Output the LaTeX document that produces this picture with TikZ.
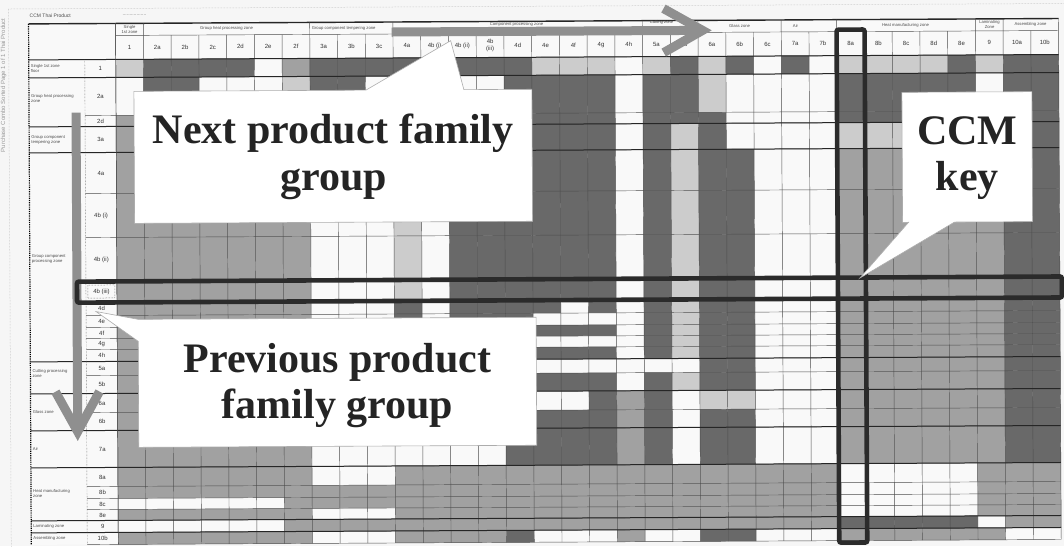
\documentclass[tikz,border=0pt]{standalone}
\usepackage{fontspec}
\setmainfont{Liberation Serif}
\newfontfamily\tinysans{Liberation Sans}
\definecolor{cD}{gray}{0.41}
\definecolor{cM}{gray}{0.63}
\definecolor{cL}{gray}{0.80}
\definecolor{cW}{gray}{0.975}
\definecolor{paper}{gray}{0.965}
\definecolor{gridc}{gray}{0.30}
\definecolor{arrowc}{gray}{0.56}
\definecolor{hlc}{gray}{0.17}
\definecolor{textc}{gray}{0.14}
\newcommand\ccmrow[3]{%
  \foreach \c [count=\i from 0] in {#3} {%
    \fill[c\c] ({117+27.735*\i},#1) rectangle ({117+27.735*(\i+1)},#2);
  }%
}
\tikzset{
  bigtext/.style={font=\fontsize{42}{47}\selectfont\bfseries, text=textc, inner sep=0pt, anchor=base},
  calloutbox/.style={fill=white, draw=gray!65, line width=0.6pt, line join=miter},
  gridline/.style={draw=gridc, line width=0.45pt},
  groupline/.style={draw=black!85, line width=1.0pt},
  hlbox/.style={draw=hlc, line width=4.6pt, rounded corners=2pt},
  bigarrow/.style={draw=arrowc, line width=9pt, line join=miter},
  collabel/.style={font=\tinysans\fontsize{6}{6.5}\selectfont, text=black!80, inner sep=0pt, align=center},
  grplabel/.style={font=\tinysans\fontsize{4.2}{4.8}\selectfont, text=black!70, inner sep=0pt, align=left},
  hdrlabel/.style={font=\tinysans\fontsize{4.2}{4.8}\selectfont, text=black!70, inner sep=0pt, align=center},
}
\begin{document}
\begin{tikzpicture}[x=1pt,y=-1pt]
\useasboundingbox (0,0) rectangle (1064,546);
\fill[paper] (0,0) rectangle (1064,546);
\begin{scope}[rotate around={0.3:(200,300)}]
  % page frame and margin text
  \draw[gray!55, densely dotted, line width=0.5pt] (10,8) -- (1070,8);
  \draw[gray!55, densely dotted, line width=0.5pt] (10,8) -- (10,550);
  \node[rotate=90, anchor=east, font=\tinysans\fontsize{6}{6}\selectfont, text=gray!80] (side) at (5,14) {Purchase Combo Sorted Page 1 of 1 Thai Product};
  \node[anchor=west, font=\tinysans\fontsize{5}{5}\selectfont, text=black!70, inner sep=0pt] (title) at (31,15) {CCM Thai Product};
  \node[anchor=west, font=\tinysans\fontsize{5}{5}\selectfont, text=black!60, inner sep=0pt] (title2) at (124,15) {.................};

  % white header and label column
  \fill[cW] (30,23) rectangle (1060,59);
  \fill[cW] (30,59) rectangle (117,544);

  % matrix cells
  \ccmrow{59}{77}{L,D,D,D,D,W,M,D,D,D,D,D,D,D,D,L,L,L,W,L,D,L,D,W,D,W,L,L,L,L,D,L,D,D}
  \ccmrow{77}{115}{W,D,D,W,W,W,L,D,D,W,D,D,W,W,D,D,D,D,W,D,D,L,W,W,W,W,D,D,D,D,D,W,D,D}
  \ccmrow{115}{126}{M,D,D,D,D,D,D,D,D,D,D,D,D,D,D,D,D,D,W,D,D,D,W,W,W,W,D,D,D,D,D,D,D,D}
  \ccmrow{126}{152}{M,D,D,D,D,D,D,D,D,D,D,D,D,D,D,D,D,D,W,D,L,D,W,W,W,W,L,L,L,L,L,L,D,D}
  \ccmrow{152}{193}{M,M,M,M,M,M,M,W,W,W,L,W,D,D,D,D,D,D,W,D,L,D,D,W,W,W,M,M,M,M,M,M,D,D}
  \ccmrow{193}{237}{M,M,M,M,M,M,M,W,W,W,L,W,D,D,D,D,D,D,W,D,L,D,D,W,W,W,M,M,M,M,M,M,D,D}
  \ccmrow{237}{281}{M,M,M,M,M,M,M,W,W,W,L,W,D,D,D,D,D,D,W,D,L,D,D,W,W,W,M,M,M,M,M,M,D,D}
  \ccmrow{281}{301}{M,M,M,M,M,M,M,W,W,W,L,W,D,D,D,D,D,D,W,D,L,D,D,W,W,W,M,M,M,M,M,M,D,D}
  \ccmrow{301}{315}{M,M,M,M,M,M,M,W,W,W,D,W,D,D,D,D,W,D,W,D,L,D,D,W,W,W,M,M,M,M,M,M,D,D}
  \ccmrow{315}{327}{M,M,M,M,M,M,M,W,W,W,D,W,D,D,D,W,W,W,W,D,L,D,D,W,W,W,M,M,M,M,M,M,D,D}
  \ccmrow{327}{338}{M,M,M,M,M,M,M,W,W,W,D,W,D,D,D,D,D,D,W,D,L,D,D,W,W,W,M,M,M,M,M,M,D,D}
  \ccmrow{338}{349}{M,M,M,M,M,M,M,W,W,W,D,W,D,D,D,W,W,W,W,D,L,D,D,W,W,W,M,M,M,M,M,M,D,D}
  \ccmrow{349}{361}{M,M,M,M,M,M,M,W,W,W,D,W,D,D,D,D,D,D,W,D,L,D,D,W,W,W,M,M,M,M,M,M,D,D}
  \ccmrow{361}{375}{M,M,M,M,M,M,M,W,W,W,D,W,D,D,D,W,W,W,W,W,W,D,D,W,W,W,M,M,M,M,M,M,D,D}
  \ccmrow{375}{393}{M,M,M,M,M,M,M,W,W,W,D,W,D,D,D,D,D,D,W,D,L,D,D,W,W,W,M,M,M,M,M,M,D,D}
  \ccmrow{393}{412}{M,M,M,M,M,M,M,W,W,W,D,W,D,D,D,W,W,D,M,D,W,L,L,W,W,W,M,M,M,M,M,M,D,D}
  \ccmrow{412}{430}{M,M,M,M,M,M,M,W,W,W,D,W,D,D,D,D,D,D,M,D,W,D,D,W,W,W,M,M,M,M,M,M,D,D}
  \ccmrow{430}{467}{M,M,M,M,M,M,M,W,W,W,W,W,W,W,D,D,D,D,M,D,W,D,D,W,W,W,M,M,M,M,M,M,D,D}
  \ccmrow{467}{486}{M,M,M,M,M,M,M,W,W,W,M,M,M,M,M,M,M,M,M,M,M,M,M,M,M,M,W,W,W,W,W,M,M,M}
  \ccmrow{486}{498}{M,M,M,M,M,M,M,M,M,M,M,M,M,M,M,M,M,M,M,M,M,M,M,M,M,M,W,W,W,W,W,M,M,M}
  \ccmrow{498}{509}{W,W,W,W,W,W,M,M,M,M,M,M,M,M,M,M,M,M,M,M,M,M,M,M,M,M,W,W,W,W,W,M,M,M}
  \ccmrow{509}{520}{M,M,M,M,M,M,M,W,W,W,M,M,M,M,M,M,M,M,M,M,M,M,M,M,M,M,W,W,W,W,W,M,M,M}
  \ccmrow{520}{532}{W,W,W,W,W,W,M,M,M,M,M,M,M,M,M,M,M,M,M,M,M,M,M,M,M,M,D,D,D,D,D,W,M,M}
  \ccmrow{532}{544}{M,M,M,M,M,M,M,W,W,W,M,M,M,M,D,W,W,W,M,W,W,D,D,W,W,W,M,M,M,M,M,M,W,W}

  % grid
  \foreach \i in {0,...,34} \draw[gridline] ({117+27.735*\i},35) -- ({117+27.735*\i},544);
  \foreach \y in {59,77,115,126,152,193,237,281,301,315,327,338,349,361,375,393,412,430,467,486,498,509,520,532,544}
    \draw[gridline] (86,\y) -- (1060,\y);
  \foreach \y in {59,77,126,152,361,393,430,467,520,532}
    \draw[groupline] (30,\y) -- (1060,\y);
  \draw[black!85, line width=1.4pt] (30,23) -- (1060,23);
  \draw[gridline] (117,35) -- (1060,35);
  \foreach \i in {0,1,7,10,19,21,24,26,31,32,34}
    \draw[gridline] ({117+27.735*\i},23) -- ({117+27.735*\i},35);
  \draw[black, line width=1.2pt, densely dotted] (30,23) -- (30,544);
  \draw[gridline, densely dotted] (86,59) -- (86,544);
  \draw[gridline] (117,23) -- (117,544);

  % column labels
  \foreach \t [count=\i from 0] in {1,2a,2b,2c,2d,2e,2f,3a,3b,3c,4a,4b (i),4b (ii),{4b\\(iii)},4d,4e,4f,4g,4h,5a,5b,6a,6b,6c,7a,7b,8a,8b,8c,8d,8e,9,10a,10b}
    \node[collabel] (cl\i) at ({117+27.735*(\i+0.5)},47) {\t};
  % row labels
  \foreach \t/\ya/\yb [count=\r] in {1/59/77,2a/77/115,2d/115/126,3a/126/152,4a/152/193,4b (i)/193/237,4b (ii)/237/281,4b (iii)/281/301,4d/301/315,4e/315/327,4f/327/338,4g/338/349,4h/349/361,5a/361/375,5b/375/393,6a/393/412,6b/412/430,7a/430/467,8a/467/486,8b/486/498,8c/498/509,8e/509/520,9/520/532,10b/532/544}
    \node[collabel] (rl\r) at (101.5,{(\ya+\yb)/2}) {\t};
  \draw[gridc, densely dotted, line width=0.5pt] (88,284.5) rectangle (115,297.5);

  % group headers (columns)
  \node[hdrlabel] (g1) at (131,29) {Single\\1st zone};
  \node[hdrlabel] (g2) at (228,29) {Group heat processing zone};
  \node[grplabel, anchor=west] (g3) at (313,29) {Group component tempering zone};
  \node[hdrlabel] (g4) at (518,26) {Component processing zone};
  \node[hdrlabel] (g5) at (663,25) {Cutting zone};
  \node[hdrlabel] (g6) at (741,29) {Glass zone};
  \node[hdrlabel] (g7) at (797,29) {Air};
  \node[hdrlabel] (g8) at (907,29) {Heat manufacturing zone};
  \node[hdrlabel] (g9) at (991,29) {Laminating\\Zone};
  \node[hdrlabel] (g10) at (1032,29) {Assembling zone};
  % group labels (rows)
  \node[grplabel, anchor=west] (r1) at (32,68) {Single 1st zone\\floor};
  \node[grplabel, anchor=west] (r2) at (32,98) {Group heat processing\\zone};
  \node[grplabel, anchor=west] (r3) at (32,139) {Group component\\tempering zone};
  \node[grplabel, anchor=west] (r4) at (32,258) {Group component\\processing zone};
  \node[grplabel, anchor=west] (r5) at (32,373) {Cutting processing\\zone};
  \node[grplabel, anchor=west] (r6) at (32,411) {Glass zone};
  \node[grplabel, anchor=west] (r7) at (32,448) {Air};
  \node[grplabel, anchor=west] (r8) at (32,493) {Heat manufacturing\\zone};
  \node[grplabel, anchor=west] (r9) at (32,526) {Laminating zone};
  \node[grplabel, anchor=west] (r10) at (32,538) {Assembling zone};

  % big gray arrows
  \draw[bigarrow] (393,33) -- (700,33);
  \draw[bigarrow] (665,11) -- (704,33) -- (665,55);
  \draw[bigarrow] (77,112) -- (77,428);
  \draw[bigarrow] (55,391) -- (77,431) -- (99,391);

  % CCM key highlights
  \draw[hlbox] (77,281) rectangle (1062,302);
  \draw[hlbox] (838,33) rectangle (866,546);

  % callouts
  \draw[calloutbox] (135,91) -- (367,91) -- (452,42) -- (465,91) -- (533,91) -- (533,223) -- (135,223) -- cycle;
  \node[bigtext] (n1) at (334,144) {Next product family};
  \node[bigtext] (n2) at (334,191) {group};

  \draw[calloutbox] (903,96) -- (1033,96) -- (1033,226) -- (955,226) -- (860,281.5) -- (909,226) -- (903,226) -- cycle;
  \node[bigtext] (k1) at (968,149) {CCM};
  \node[bigtext] (k2) at (968,195) {key};

  \draw[calloutbox] (138,319) -- (536,319) -- (536,447) -- (138,447) -- (138,341) -- (96,311) -- cycle;
  \node[bigtext] (p1) at (337,373) {Previous product};
  \node[bigtext] (p2) at (337,419) {family group};
\end{scope}
\end{tikzpicture}
\end{document}
